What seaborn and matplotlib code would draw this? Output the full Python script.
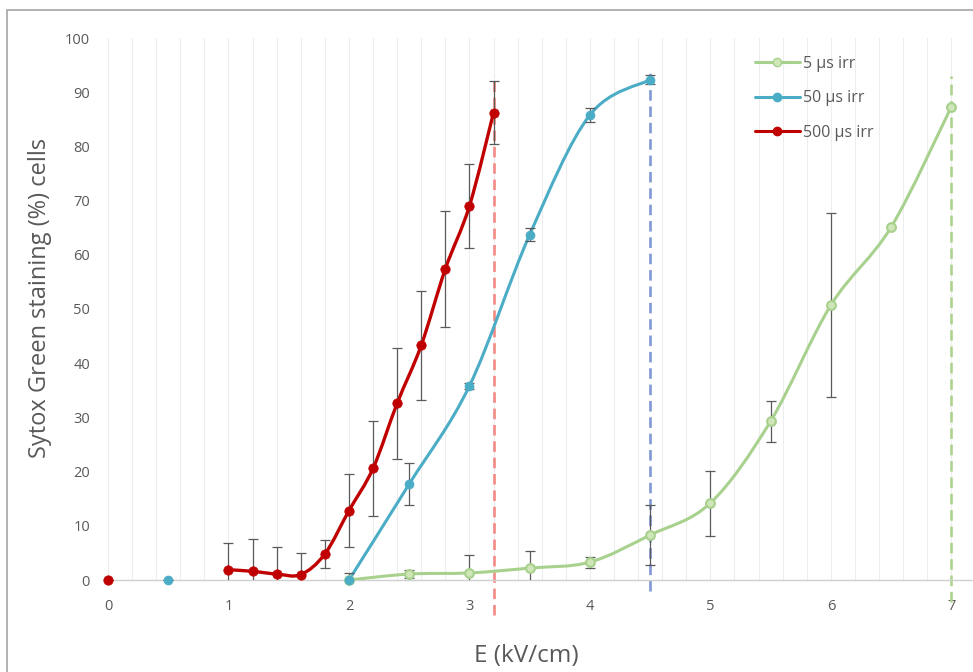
import numpy as np
import matplotlib
matplotlib.use("Agg")
import matplotlib.pyplot as plt
import seaborn as sns
from matplotlib.path import Path
from matplotlib.patches import PathPatch, Rectangle
from matplotlib.lines import Line2D
from matplotlib.ticker import MultipleLocator

# data (E in kV/cm, % Sytox Green positive cells)
e_5 = [2.0, 2.5, 3.0, 3.5, 4.0, 4.5, 5.0, 5.5, 6.0, 6.5, 7.0]
y_5 = [0.0, 1.1, 1.3, 2.2, 3.3, 8.3, 14.2, 29.3, 50.7, 65.1, 87.3]
err_5 = [0.0, 0.7, 3.4, 3.2, 1.0, 5.5, 6.0, 3.8, 17.0, 0.0, 0.0]

e_50 = [0.5, 2.0, 2.5, 3.0, 3.5, 4.0, 4.5]
y_50 = [0.0, 0.0, 17.7, 35.8, 63.7, 85.8, 92.3]
err_50 = [0.0, 1.3, 3.8, 0.5, 1.2, 1.3, 0.8]

e_500 = [0.0, 1.0, 1.2, 1.4, 1.6, 1.8, 2.0, 2.2, 2.4, 2.6, 2.8, 3.0, 3.2]
y_500 = [0.0, 1.9, 1.6, 1.1, 1.0, 4.8, 12.8, 20.6, 32.6, 43.3, 57.4, 69.0, 86.2]
err_500 = [0.0, 5.0, 5.9, 5.0, 3.9, 2.5, 6.8, 8.7, 10.2, 10.0, 10.7, 7.7, 5.8]

# the control points at low E are not joined to the curve (the line runs below 0 there)
line_start = [0, 1, 1]

labels = ["5 µs irr", "50 µs irr", "500 µs irr"]
colors = ["#a9d18e", "#4bacc6", "#c00000"]
# thresholds (dashed markers)
thr_x = [3.2, 4.5, 7.0]
thr_colors = ["#f38a84", "#8099d4", "#add48f"]


def smooth_path(x, y):
    # excel-like smoothed line: bezier segments (catmull-rom control points)
    pts = np.column_stack([x, y]).astype(float)
    n = len(pts)
    verts = [pts[0]]
    codes = [Path.MOVETO]
    for i in range(n - 1):
        p0 = pts[i - 1] if i > 0 else pts[i]
        p1 = pts[i]
        p2 = pts[i + 1]
        p3 = pts[i + 2] if i + 2 < n else pts[i + 1]
        verts += [p1 + (p2 - p0) / 6, p2 - (p3 - p1) / 6, p2]
        codes += [Path.CURVE4] * 3
    return Path(verts, codes)


sns.set_theme(style="white")
plt.rcParams['font.family'] = ['Open Sans', 'DejaVu Sans']

fig = plt.figure(figsize=(9.73, 6.72), dpi=100)
ax = fig.add_axes([108 / 973, 92 / 672, 1 - 108 / 973, 542 / 672])

series = [(e_5, y_5, err_5), (e_50, y_50, err_50), (e_500, y_500, err_500)]
lws = [2.2, 2.2, 2.4]
for (ex, ey, er), c, lw, k in zip(series, colors, lws, line_start):
    ax.add_patch(PathPatch(smooth_path(ex[k:], ey[k:]), fill=False, edgecolor=c,
                           lw=lw, zorder=3, capstyle='round'))
    ax.errorbar(ex, ey, yerr=er, fmt='none', ecolor='#5a5a5a', elinewidth=0.9,
                capsize=3.5, capthick=0.9, zorder=3.5)

sns.scatterplot(x=e_5, y=y_5, ax=ax, s=40, color='#cfe6b8', edgecolor=colors[0],
                linewidth=1.5, zorder=4, clip_on=False)
sns.scatterplot(x=e_50, y=y_50, ax=ax, s=42, color=colors[1], edgecolor=colors[1],
                linewidth=0.5, zorder=4, clip_on=False)
sns.scatterplot(x=e_500, y=y_500, ax=ax, s=46, color=colors[2], edgecolor=colors[2],
                linewidth=0.5, zorder=4, clip_on=False)

# dashed threshold lines
ax.vlines(thr_x, [-6.5, -2.0, -4.0], [93.2, 94.5, 93.0], colors=thr_colors,
          linestyles=(0, (4, 2.2)), lw=1.9, zorder=2.5, clip_on=False)

ax.set_xlim(0, 7.18)
ax.set_ylim(0, 100)
ax.xaxis.set_major_locator(MultipleLocator(1))
ax.xaxis.set_minor_locator(MultipleLocator(0.2))
ax.yaxis.set_major_locator(MultipleLocator(10))
ax.grid(axis='x', which='both', color='#ededed', lw=0.8, zorder=0)
ax.grid(axis='y', visible=False)
for s in ['top', 'right', 'left']:
    ax.spines[s].set_visible(False)
ax.spines['bottom'].set_color('#d0d0d0')
ax.spines['bottom'].set_linewidth(1.0)
ax.tick_params(axis='both', which='both', length=0, labelsize=10.5,
               labelcolor='#595959')
ax.tick_params(axis='x', pad=14)
ax.tick_params(axis='y', pad=13)

ax.set_xlabel("E (kV/cm)", fontsize=17.5, color='#595959', labelpad=21, x=0.484)
ax.set_ylabel("Sytox Green staining (%) cells", fontsize=17, color='#595959',
              labelpad=9, y=0.52)

handles = []
for c, mfc in zip(colors, ['#cfe6b8', colors[1], colors[2]]):
    handles.append(Line2D([], [], color=c, lw=2.2, marker='o', ms=6,
                          mfc=mfc, mec=c))
fig.legend(handles, labels, loc='upper left', bbox_to_anchor=(747 / 973, 1 - 48 / 672),
           frameon=False, fontsize=11.5, handlelength=2.8, handletextpad=0.2,
           labelspacing=1.15, borderpad=0, labelcolor='#595959')

# chart area border (cut off at right and bottom)
fig.patches.append(Rectangle((7 / 973, -0.1), 1.2, 1.1 - 10 / 672, fill=False,
                             edgecolor='#a6a6a6', lw=1.2, transform=fig.transFigure))

fig.savefig("out.png", dpi=100)
